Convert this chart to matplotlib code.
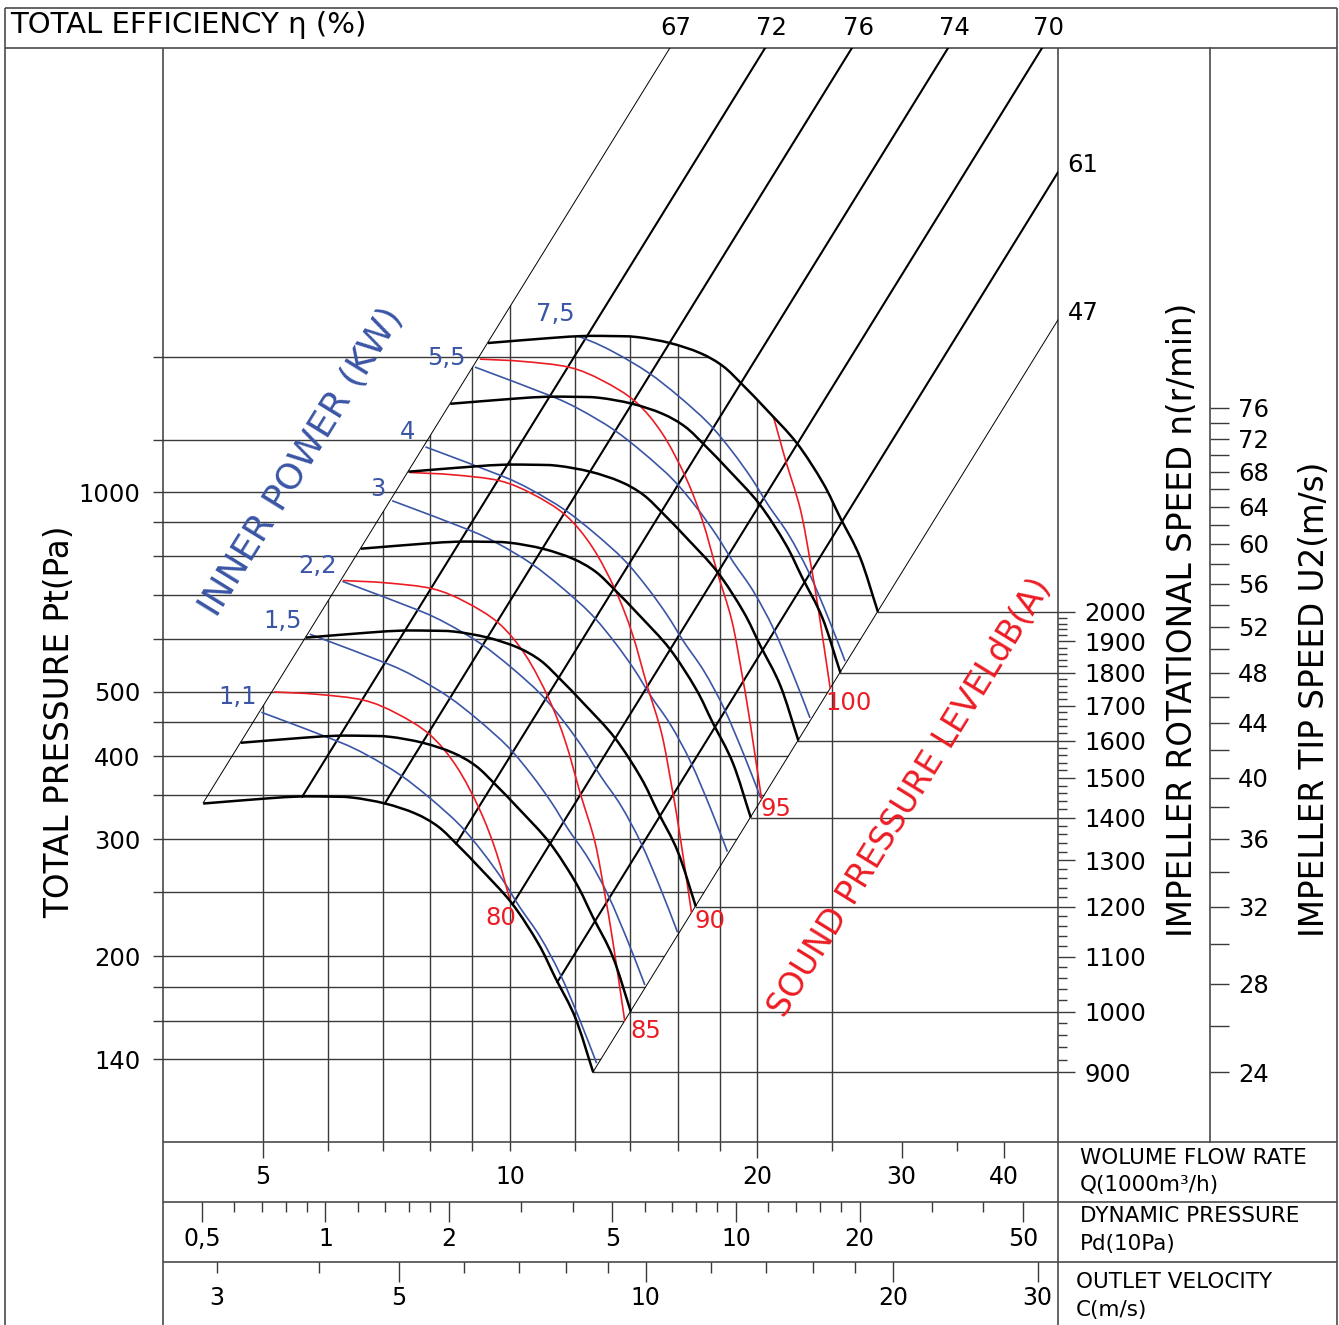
import numpy as np
import matplotlib
matplotlib.use("Agg")
import matplotlib.pyplot as plt
from matplotlib.patches import Polygon, PathPatch
from matplotlib.path import Path
from matplotlib.ticker import NullFormatter, NullLocator

# ---- values (Q in 1000 m3/h, Pt in Pa) ----
# characteristic at the highest speed
top_q = [9.40, 11.18, 12.27, 13.24, 14.28, 15.66, 17.04, 18.17, 19.22, 20.56, 22.36, 24.06, 25.23, 26.69, 28.07]
top_pt = [1677, 1706, 1718, 1718, 1712, 1677, 1620, 1548, 1449, 1329, 1185, 1032, 917, 798, 660]
speeds = [2000, 1800, 1600, 1400, 1200, 1000, 900]

# efficiency lines, given by the flow where they cross 1000 Pa
eff_labels = ["67", "72", "76", "74", "70", "61", "47"]
eff_q1000 = [7.25, 9.47, 12.08, 15.82, 20.59, 26.71, 34.50]

# inner power: the 1,1 kW line, and where each power line meets the 47 % edge
power_q = [4.98, 6.15, 6.69, 7.35, 7.99, 8.69, 9.28, 9.81, 10.28, 10.88, 11.51, 12.17, 12.75]
power_pt = [466, 422, 402, 375, 346, 315, 286, 260, 237, 214, 188, 160, 138]
power_labels = ["1,1", "1,5", "2,2", "3", "4", "5,5", "7,5"]
power_end_q = [12.75, 14.6, 16.0, 18.4, 20.2, 23.2, 25.6]

# sound pressure: the 80 dB(A) line, and where each line leaves the 67 % edge
sound_q = [5.16, 5.82, 6.63, 7.28, 7.99, 8.61, 9.19, 9.63, 10.04, 10.46, 10.76, 11.00, 11.38]
sound_pt = [500, 496, 486, 464, 431, 386, 332, 286, 239, 202, 168, 143, 108]
sound_labels = ["80", "85", "90", "95", "100"]
sound_start_q = [5.16, 6.26, 7.55, 9.19, 11.14]

# grid and scales
pt_grid = [1600, 1200, 1000, 900, 800, 700, 600, 500, 450, 400, 350, 300, 250, 200, 180, 160, 140]
pt_labeled = [1000, 500, 400, 300, 200, 140]
q_grid = [5, 6, 7, 8, 9, 10, 12, 14, 16, 18, 20, 24.7]
q_major = [5, 20, 30, 40]
q_minor = [6, 7, 8, 9, 10, 12, 14, 16, 18, 24.7, 35]
q_labels = [5, 10, 20, 30, 40]

pd_per_q2 = 0.02815          # Pd (10 Pa) per Q^2
pd_major = [0.5, 1, 2, 5, 10, 20, 50]
pd_minor = [0.6, 0.7, 0.8, 0.9, 1.2, 1.4, 1.6, 1.8, 3, 4, 6, 7, 8, 9, 12, 14, 16, 18, 30, 40]
pd_labels = ["0,5", "1", "2", "5", "10", "20", "50"]

q_per_c = 1.464              # Q (1000 m3/h) per m/s outlet velocity
c_major = [5, 10, 20, 30]
c_minor = [3, 4, 6, 7, 8, 9, 12, 14, 16, 18]
c_labels = [3, 5, 10, 20, 30]

rpm_major = list(range(900, 2001, 100))
rpm_minor = [v for v in range(900, 2001, 20) if v % 100]
u2_per_n = 24 / 900
u2_major = list(range(24, 77, 4))
u2_minor = list(range(26, 77, 4))

q_lim = (3.779, 46.51)
pt_lim = (105.0, 4665.0)

BLUE = "#3a55a5"
RED = "#ec1c24"
GRID = "#3a3a3a"
FRAME = "#4a4a4a"

W, H = 1339, 1325
plt.rcParams["font.family"] = ["DejaVu Sans"]
fig = plt.figure(figsize=(W / 100, H / 100), dpi=100)


def fx(x):
    return x / W


def fy(y):
    return 1 - y / H


def curve(ax, q, p, **kw):
    # smooth bezier through the read points, built in log space
    pts = np.column_stack([np.log10(q), np.log10(p)])
    tan = np.gradient(pts, axis=0)
    verts = [pts[0]]
    codes = [Path.MOVETO]
    for i in range(len(pts) - 1):
        verts += [pts[i] + tan[i] / 3, pts[i + 1] - tan[i + 1] / 3, pts[i + 1]]
        codes += [Path.CURVE4] * 3
    patch = PathPatch(Path(10 ** np.array(verts), codes), fill=False, **kw)
    ax.add_patch(patch)
    return patch


# frame of the sheet, in pixels
bg = fig.add_axes([0, 0, 1, 1], zorder=-5)
bg.set_xlim(0, W)
bg.set_ylim(H, 0)
bg.axis("off")
for (x0, y0, x1, y1) in [(5, 8, 1337, 8), (5, 48, 1337, 48), (5, 8, 5, 1325), (1337, 8, 1337, 1325),
                         (163, 48, 163, 1325), (1058, 48, 1058, 1325),
                         (163, 1142, 1337, 1142), (163, 1202, 1337, 1202), (163, 1262, 1337, 1262)]:
    bg.plot([x0, x1], [y0, y1], color=FRAME, lw=1.2, solid_capstyle="butt")

ax = fig.add_axes([fx(163), fy(1142), (1058 - 163) / W, (1142 - 48) / H])
ax.set_xscale("log")
ax.set_yscale("log")
ax.set_xlim(q_lim)
ax.set_ylim(pt_lim)
ax.set_autoscale_on(False)
ax.patch.set_alpha(0)
for s in ax.spines.values():
    s.set_visible(False)

top_q = np.array(top_q)
top_pt = np.array(top_pt)
n_top = speeds[0]
k_top = top_pt / top_q ** 2


def on_curve(k, n):
    lq = np.interp(np.log(k), np.log(k_top[::-1]), np.log(top_q[::-1]))
    q = np.exp(lq) * n / n_top
    return q, k * q * q


low_q = top_q * speeds[-1] / n_top
low_pt = top_pt * (speeds[-1] / n_top) ** 2
k_left = 1000 / eff_q1000[0] ** 2
k_right = 1000 / eff_q1000[-1] ** 2

# clip regions
region = Polygon(np.column_stack([np.r_[top_q, low_q[::-1]], np.r_[top_pt, low_pt[::-1]]]),
                 closed=True, transform=ax.transData)
qe = 10.3
pt_e = np.exp(np.interp(np.log(qe), np.log(top_q), np.log(top_pt)))
keep = top_q > qe
v_clip = Polygon(np.column_stack([np.r_[1, 1, qe, qe, top_q[keep], top_q[-1]],
                                  np.r_[1, k_left, k_left * qe ** 2, pt_e, top_pt[keep], 1]]),
                 closed=True, transform=ax.transData)
q10 = np.sqrt(10 / k_right)
h_clip = Polygon(np.column_stack([np.r_[1, top_q[0], top_q, q10, 1],
                                  np.r_[1e4, 1e4, top_pt, 10, 10]]),
                 closed=True, transform=ax.transData)

# grid
for p in pt_grid:
    ln = ax.axhline(p, color=GRID, lw=1.0, zorder=1)
    ln.set_clip_path(h_clip)
for q in q_grid:
    ln = ax.axvline(q, color=GRID, lw=1.0, zorder=1)
    ln.set_clip_path(v_clip)

# efficiency lines
for lab, q1 in zip(eff_labels, eff_q1000):
    k = 1000 / q1 ** 2
    q0, p0 = on_curve(k, speeds[-1])
    thin = lab in (eff_labels[0], eff_labels[-1])
    ax.plot([q0, 80], [p0, k * 80 ** 2], color="black", lw=0.7 if thin else 1.5, zorder=2)
    q_top = np.sqrt(pt_lim[1] / k)
    if q_top < q_lim[1]:
        ax.annotate(lab, (q_top, pt_lim[1]), xytext=(4.5, 14.5), textcoords="offset points",
                    ha="center", va="center", fontsize=17.5, annotation_clip=False)
    else:
        ax.annotate(lab, (q_lim[1], k * q_lim[1] ** 2), xytext=(7, 5), textcoords="offset points",
                    ha="left", va="center", fontsize=17.5, annotation_clip=False)

# power lines
power_q = np.array(power_q)
power_pt = np.array(power_pt)
for qe_ in power_end_q:
    s = qe_ / power_end_q[0]
    pp = curve(ax, power_q * s, power_pt * s * s, edgecolor=BLUE, lw=1.2, zorder=3)
    pp.set_clip_path(region)

# sound lines
sound_q = np.array(sound_q)
sound_pt = np.array(sound_pt)
for qs in sound_start_q:
    s = qs / sound_start_q[0]
    pp = curve(ax, sound_q * s, sound_pt * s * s, edgecolor=RED, lw=1.2, zorder=3)
    pp.set_clip_path(region)

# speed curves and their lines to the speed scale
for n in speeds:
    r = n / n_top
    curve(ax, top_q * r, top_pt * r * r, edgecolor="black", lw=1.8, zorder=4)
    ax.plot([top_q[-1] * r, q_lim[1]], [top_pt[-1] * r * r] * 2, color=GRID, lw=1.0, zorder=1)

# axes ticks
ax.set_xticks(q_major, labels=["" for _ in q_major])
ax.set_xticks(q_minor, minor=True)
ax.xaxis.set_minor_formatter(NullFormatter())
ax.tick_params(axis="x", which="major", length=11.5, width=1.0, color=GRID)
ax.tick_params(axis="x", which="minor", length=6.5, width=1.0, color=GRID)
for v in q_labels:
    ax.text(v, -0.032, str(v), transform=ax.get_xaxis_transform(), ha="center", va="center", fontsize=17)

ax.set_yticks(pt_grid, labels=[str(p) if p in pt_labeled else "" for p in pt_grid])
ax.yaxis.set_minor_locator(NullLocator())
ax.tick_params(axis="y", which="major", length=7.2, width=1.0, color=GRID, pad=9, labelsize=17.5)


def pt2n(p):
    return n_top * np.sqrt(np.clip(np.asarray(p, float), 1e-9, None) / top_pt[-1])


def n2pt(n):
    return top_pt[-1] * (np.asarray(n, float) / n_top) ** 2


sec = ax.secondary_yaxis("right", functions=(pt2n, n2pt))
sec.set_yticks(rpm_major, labels=[str(v) for v in rpm_major])
sec.set_yticks(rpm_minor, minor=True)
sec.yaxis.set_minor_formatter(NullFormatter())
sec.tick_params(which="major", length=12.2, width=1.0, color=GRID, pad=7, labelsize=17.5)
sec.tick_params(which="minor", length=6.2, width=1.0, color=GRID)
sec.spines["right"].set_visible(False)

sec2 = ax.secondary_yaxis((1210 - 163) / (1058 - 163),
                          functions=(lambda p: pt2n(p) * u2_per_n, lambda u: n2pt(np.asarray(u, float) / u2_per_n)))
sec2.set_yticks(u2_major, labels=[str(v) for v in u2_major])
sec2.set_yticks(u2_minor, minor=True)
sec2.yaxis.set_minor_formatter(NullFormatter())
sec2.tick_params(which="both", length=13.5, width=1.0, color=GRID, pad=6.5, labelsize=17.5)
sec2.spines["right"].set_color(FRAME)
sec2.spines["right"].set_linewidth(1.2)

# dynamic pressure band
ax_pd = fig.add_axes([fx(163), fy(1262), (1058 - 163) / W, 60 / H])
ax_pd.set_xscale("log")
ax_pd.set_xlim(pd_per_q2 * q_lim[0] ** 2, pd_per_q2 * q_lim[1] ** 2)
ax_pd.set_ylim(0, 1)
for s in ax_pd.spines.values():
    s.set_visible(False)
ax_pd.set_yticks([])
ax_pd.xaxis.tick_top()
ax_pd.set_xticks(pd_major, labels=["" for _ in pd_major])
ax_pd.set_xticks(pd_minor, minor=True)
ax_pd.xaxis.set_minor_formatter(NullFormatter())
ax_pd.tick_params(axis="x", which="major", direction="in", length=14.4, width=1.0, color=GRID)
ax_pd.tick_params(axis="x", which="minor", direction="in", length=7.2, width=1.0, color=GRID)
ax_pd.patch.set_alpha(0)
for v, lab in zip(pd_major, pd_labels):
    ax_pd.text(v, 0.38, lab, ha="center", va="center", fontsize=17)

# outlet velocity band
ax_c = fig.add_axes([fx(163), 0, (1058 - 163) / W, 63 / H])
ax_c.set_xscale("log")
ax_c.set_xlim(q_lim[0] / q_per_c, q_lim[1] / q_per_c)
ax_c.set_ylim(0, 1)
for s in ax_c.spines.values():
    s.set_visible(False)
ax_c.set_yticks([])
ax_c.xaxis.tick_top()
ax_c.set_xticks(c_major, labels=["" for _ in c_major])
ax_c.set_xticks(c_minor, minor=True)
ax_c.xaxis.set_minor_formatter(NullFormatter())
ax_c.tick_params(axis="x", which="major", direction="in", length=14.4, width=1.0, color=GRID)
ax_c.tick_params(axis="x", which="minor", direction="in", length=8.0, width=1.0, color=GRID)
ax_c.patch.set_alpha(0)
for v in c_labels:
    ax_c.text(v, 0.43, str(v), ha="center", va="center", fontsize=17)

# texts
fig.text(fx(10), fy(25), "TOTAL EFFICIENCY η (%)", fontsize=21, ha="left", va="center")
fig.text(fx(60), fy(722), "TOTAL PRESSURE Pt(Pa)", rotation=90, fontsize=23.5, ha="center", va="center")
fig.text(fx(1182), fy(620), "IMPELLER ROTATIONAL SPEED n(r/min)", rotation=90, fontsize=23.5,
         ha="center", va="center")
fig.text(fx(1315), fy(699), "IMPELLER TIP SPEED U2(m/s)", rotation=90, fontsize=23.5, ha="center", va="center")
fig.text(fx(302), fy(462), "INNER POWER (KW)", rotation=58.3, fontsize=26, color=BLUE,
         ha="center", va="center", rotation_mode="anchor")
fig.text(fx(910), fy(798), "SOUND PRESSURE LEVELdB(A)", rotation=58.3, fontsize=23.8, color=RED,
         ha="center", va="center", rotation_mode="anchor")

for lab, (x, y) in zip(power_labels, [(238, 697), (283, 621), (317, 566), (378, 489), (408, 432),
                                      (446, 358), (555, 314)]):
    fig.text(fx(x), fy(y), lab, color=BLUE, fontsize=17.5, ha="center", va="center")
for lab, (x, y) in zip(sound_labels, [(501, 918), (646, 1031), (710, 921), (776, 809), (848, 703)]):
    fig.text(fx(x), fy(y), lab, color=RED, fontsize=17.5, ha="center", va="center")

for txt, (x, y) in [("WOLUME FLOW RATE", (1080, 1158)), ("Q(1000m³/h)", (1080, 1185)),
                    ("DYNAMIC PRESSURE", (1080, 1216)), ("Pd(10Pa)", (1080, 1244)),
                    ("OUTLET VELOCITY", (1076, 1282)), ("C(m/s)", (1076, 1310))]:
    fig.text(fx(x), fy(y), txt, fontsize=15.5, ha="left", va="center")

fig.savefig("out.png", dpi=100)
